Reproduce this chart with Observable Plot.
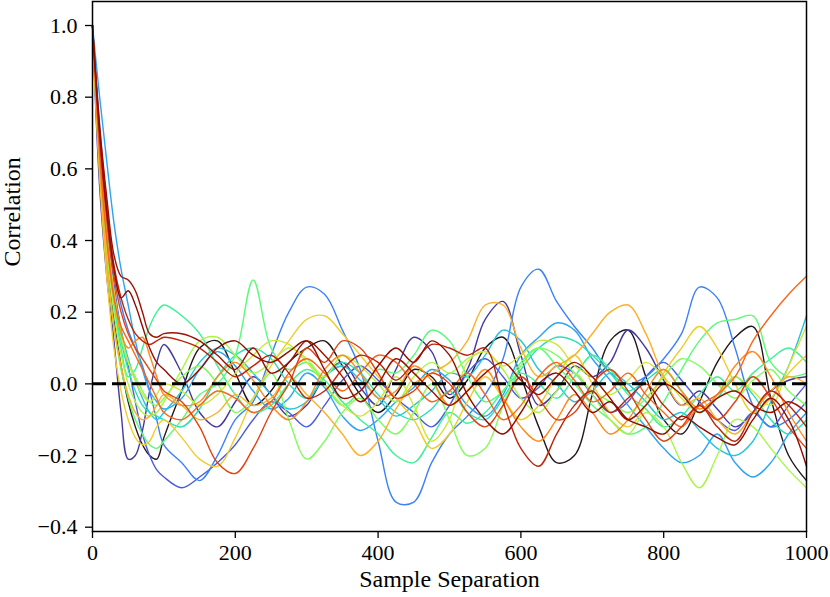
<!DOCTYPE html>
<html>
<head>
<meta charset="utf-8">
<script src="https://cdn.jsdelivr.net/npm/d3@7"></script>
<script src="https://cdn.jsdelivr.net/npm/@observablehq/plot@0.6"></script>
<style>
  html, body { margin: 0; padding: 0; background: white; }
</style>
</head>
<body>
<div id="chart"></div>
<script>
// Sample separations (lags) at which correlations were read
const lags = [0,10,20,30,40,50,60,70,80,90,
  100,125,150,175,200,225,250,275,300,325,350,375,400,425,450,475,500,525,550,575,
  600,625,650,675,700,725,750,775,800,825,850,875,900,925,950,975,1000];

const xTicks = [0,200,400,600,800,1000];
const yTicks = [-0.4,-0.2,0,0.2,0.4,0.6,0.8,1.0];

const s0 = [1.0,0.62,0.36,0.18,0.05,-0.05,-0.12,-0.17,-0.20,-0.21,
  -0.15,-0.02,0.10,0.12,0.03,-0.06,-0.02,0.06,0.10,0.12,0.05,-0.03,-0.08,-0.03,0.04,0.02,-0.04,0.01,0.10,0.13,
  0.02,-0.12,-0.22,-0.20,-0.03,0.12,0.15,0.02,-0.10,-0.14,-0.05,0.06,0.13,0.16,-0.04,-0.20,-0.27];
const s1 = [1.0,0.55,0.30,0.12,-0.08,-0.21,-0.20,-0.13,-0.02,0.06,
  0.11,0.03,-0.08,-0.12,-0.05,0.02,-0.03,-0.09,-0.06,0.02,0.06,-0.01,-0.06,0.04,0.13,0.09,-0.03,0.04,0.18,0.23,
  0.08,-0.06,-0.02,0.05,0.02,0.06,0.15,0.10,0.01,-0.06,-0.02,-0.07,-0.12,-0.08,-0.02,0.01,0.02];
const s2 = [1.0,0.68,0.45,0.28,0.15,0.05,-0.05,-0.14,-0.20,-0.24,
  -0.26,-0.29,-0.26,-0.22,-0.17,-0.10,-0.05,-0.08,-0.12,-0.06,0.01,0.05,0.01,-0.04,-0.08,-0.12,-0.06,0.03,0.07,0.02,
  -0.04,-0.01,0.05,0.03,-0.03,-0.08,-0.05,0.02,0.06,0.01,-0.05,-0.10,-0.13,-0.08,-0.12,-0.06,0.00];
const s3 = [1.0,0.72,0.50,0.33,0.22,0.15,0.10,0.05,-0.02,-0.10,
  -0.17,-0.22,-0.27,-0.20,-0.10,-0.05,0.08,0.20,0.27,0.25,0.15,0.04,-0.16,-0.33,-0.33,-0.22,-0.14,-0.09,-0.03,0.07,
  0.27,0.32,0.23,0.16,0.10,0.03,0.00,0.02,0.07,0.14,0.27,0.24,0.10,-0.06,-0.12,-0.10,-0.05];
const s4 = [1.0,0.80,0.62,0.45,0.32,0.22,0.12,0.04,-0.02,-0.05,
  -0.07,-0.04,0.04,0.09,0.05,-0.02,-0.07,-0.04,0.03,-0.01,-0.09,-0.13,-0.10,-0.05,-0.01,0.04,0.01,-0.06,-0.09,-0.03,
  0.08,0.13,0.17,0.15,0.07,0.01,-0.06,-0.12,-0.18,-0.22,-0.20,-0.14,-0.22,-0.26,-0.22,-0.14,-0.08];
const s5 = [1.0,0.66,0.42,0.26,0.15,0.07,0.01,-0.04,-0.08,-0.10,
  -0.08,-0.02,0.06,0.10,0.08,0.03,-0.03,-0.07,-0.05,0.02,0.05,0.01,-0.04,-0.09,-0.06,-0.02,0.03,0.02,0.08,0.15,
  0.12,0.04,0.00,-0.05,-0.02,0.03,0.00,-0.05,-0.10,-0.08,-0.13,-0.18,-0.20,-0.16,-0.05,0.05,0.19];
const s6 = [1.0,0.63,0.39,0.22,0.12,0.04,-0.02,-0.06,-0.08,-0.09,
  -0.10,-0.12,-0.07,0.02,0.08,0.10,0.07,0.00,-0.04,0.02,0.06,0.03,-0.03,-0.08,-0.10,-0.07,-0.02,-0.08,-0.10,-0.04,
  0.04,0.10,0.13,0.12,0.08,0.03,-0.02,0.01,0.04,-0.02,-0.08,-0.04,0.02,-0.03,-0.10,-0.14,-0.10];
const s7 = [1.0,0.65,0.40,0.22,0.10,0.02,0.04,0.10,0.16,0.20,
  0.22,0.19,0.14,0.05,-0.03,-0.08,-0.06,0.00,0.04,0.01,-0.05,-0.10,-0.14,-0.20,-0.22,-0.15,-0.08,-0.11,-0.08,-0.02,
  0.03,0.00,-0.04,0.02,0.08,0.04,-0.03,-0.07,-0.12,-0.09,-0.03,0.02,-0.02,0.03,0.07,0.10,0.06];
const s8 = [1.0,0.60,0.34,0.16,0.04,-0.04,-0.10,-0.14,-0.17,-0.18,
  -0.16,-0.10,-0.03,0.00,0.08,0.29,0.10,0.04,0.06,0.00,-0.06,-0.02,0.04,0.03,0.08,0.15,0.12,0.02,-0.05,-0.02,
  0.06,0.10,0.05,0.00,-0.06,-0.10,-0.14,-0.12,-0.05,0.04,0.12,0.17,0.18,0.19,0.06,0.02,0.03];
const s9 = [1.0,0.64,0.40,0.24,0.13,0.06,0.02,-0.02,-0.05,-0.06,
  -0.04,0.02,0.05,0.00,-0.08,-0.04,0.03,-0.10,-0.21,-0.16,-0.08,-0.04,-0.10,-0.14,-0.08,0.00,-0.10,-0.20,-0.18,-0.06,
  0.05,0.10,0.08,0.03,-0.02,-0.05,-0.08,-0.04,0.02,0.07,0.05,0.00,-0.04,0.01,0.04,-0.02,-0.06];
const s10 = [1.0,0.62,0.37,0.20,0.08,0.00,-0.05,-0.08,-0.09,-0.08,
  -0.05,0.04,0.12,0.13,0.08,0.03,0.06,0.10,0.07,0.02,0.08,0.05,0.00,-0.05,0.02,0.06,0.03,0.07,0.09,0.04,
  -0.04,-0.08,-0.02,0.03,-0.03,-0.10,-0.14,-0.08,-0.12,-0.22,-0.29,-0.20,-0.10,-0.12,-0.18,-0.24,-0.29];
const s11 = [1.0,0.66,0.42,0.26,0.14,0.06,0.01,-0.03,-0.05,-0.03,
  0.00,-0.02,-0.06,-0.03,0.03,0.08,0.12,0.11,0.06,0.00,-0.06,-0.09,-0.05,0.02,-0.06,-0.16,-0.10,0.06,0.09,0.05,
  0.08,0.12,0.11,0.05,0.02,-0.03,0.01,0.06,0.02,-0.04,-0.08,-0.03,0.02,-0.02,-0.06,0.05,0.16];
const s12 = [1.0,0.58,0.30,0.10,-0.02,-0.10,-0.15,-0.17,-0.16,-0.12,
  -0.10,-0.15,-0.21,-0.23,-0.15,-0.04,0.05,0.12,0.18,0.19,0.14,0.08,0.02,-0.04,-0.10,-0.18,-0.14,-0.05,0.02,-0.04,
  -0.10,-0.06,0.02,0.08,0.00,-0.08,-0.12,-0.06,0.03,0.10,0.16,0.10,0.00,-0.08,-0.04,0.03,0.08];
const s13 = [1.0,0.60,0.34,0.16,0.05,-0.03,-0.08,-0.10,-0.09,-0.06,
  -0.03,-0.06,-0.10,-0.08,-0.03,-0.06,-0.04,0.02,-0.03,-0.08,-0.14,-0.20,-0.16,-0.07,0.00,0.03,0.06,0.12,0.22,0.22,
  0.10,0.02,0.05,0.08,0.14,0.20,0.22,0.14,0.02,-0.06,-0.04,-0.10,-0.14,-0.08,-0.02,0.02,0.00];
const s14 = [1.0,0.66,0.42,0.25,0.14,0.10,0.12,0.13,0.08,0.02,
  -0.03,-0.06,-0.05,0.02,0.06,0.01,-0.06,-0.10,-0.05,0.04,0.08,0.03,-0.04,-0.02,0.05,0.01,-0.06,-0.02,0.04,-0.04,
  -0.12,-0.16,-0.10,-0.03,-0.08,-0.14,-0.10,-0.02,0.04,-0.02,-0.07,-0.03,0.05,0.09,0.02,-0.08,-0.16];
const s15 = [1.0,0.64,0.40,0.24,0.16,0.12,0.08,0.04,0.00,-0.04,
  -0.08,-0.10,-0.06,-0.02,-0.04,-0.08,-0.05,0.03,0.07,0.03,-0.02,0.03,0.08,0.06,0.00,-0.05,-0.02,0.03,-0.03,-0.10,
  -0.06,0.02,0.06,0.01,-0.05,-0.02,0.03,-0.03,-0.08,-0.12,-0.06,-0.03,0.02,0.12,0.19,0.25,0.30];
const s16 = [1.0,0.68,0.46,0.30,0.20,0.14,0.10,0.07,0.04,0.01,
  -0.02,-0.05,-0.12,-0.22,-0.25,-0.18,-0.08,0.00,0.10,0.06,0.12,0.10,0.03,-0.04,-0.02,0.03,0.00,-0.08,-0.12,-0.06,
  0.02,-0.04,-0.10,-0.08,0.00,0.04,-0.02,-0.10,-0.16,-0.12,-0.06,-0.10,-0.05,0.02,-0.04,-0.12,-0.18];
const s17 = [1.0,0.70,0.48,0.33,0.24,0.18,0.14,0.12,0.11,0.12,
  0.13,0.12,0.10,0.06,0.02,0.05,0.08,0.03,-0.04,-0.02,0.04,0.08,0.06,0.01,0.06,0.11,0.10,0.08,0.10,-0.05,
  -0.18,-0.23,-0.14,-0.06,-0.02,-0.08,-0.04,0.00,-0.06,-0.10,-0.06,-0.12,-0.16,-0.08,-0.02,-0.06,-0.12];
const s18 = [1.0,0.72,0.52,0.36,0.30,0.29,0.26,0.20,0.14,0.13,
  0.14,0.14,0.12,0.08,0.04,0.10,0.03,0.06,0.12,0.08,0.02,-0.05,0.00,0.07,0.03,-0.02,-0.06,-0.02,0.03,0.06,
  0.01,-0.03,0.02,0.06,0.02,-0.04,-0.10,-0.06,0.00,-0.03,-0.08,-0.04,-0.02,-0.06,-0.08,-0.05,-0.08];
const s19 = [1.0,0.70,0.48,0.32,0.24,0.26,0.22,0.16,0.10,0.06,
  0.04,0.00,0.04,0.10,0.12,0.08,0.06,0.09,0.12,0.04,-0.04,-0.02,0.05,0.10,0.06,0.12,0.08,-0.03,-0.10,-0.14,
  -0.08,0.00,0.03,-0.02,-0.08,-0.05,-0.10,-0.12,-0.14,-0.09,-0.12,-0.15,-0.17,-0.10,-0.04,-0.10,-0.23];

const series = [s0,s1,s2,s3,s4,s5,s6,s7,s8,s9,s10,s11,s12,s13,s14,s15,s16,s17,s18,s19];
const seriesIds = series.map((_, i) => i);
const colors = seriesIds.map(i => d3.interpolateTurbo(i / (series.length - 1)));

const data = series.flatMap((vals, i) =>
  vals.slice(0, lags.length).map((v, j) => ({lag: lags[j], r: v, s: i})));

const chart = Plot.plot({
  width: 830,
  height: 597,
  marginLeft: 92,
  marginRight: 24,
  marginTop: 1,
  marginBottom: 66,
  style: {fontFamily: "'Liberation Serif', 'Times New Roman', serif", fontSize: "22px", background: "white", color: "black"},
  x: {domain: [0, 1000]},
  y: {domain: [-0.412, 1.067]},
  color: {type: "ordinal", domain: seriesIds, range: colors},
  marks: [
    Plot.line(data, {x: "lag", y: "r", z: "s", stroke: "s", strokeWidth: 1.4, curve: "catmull-rom"}),
    Plot.ruleY([0], {stroke: "black", strokeWidth: 3, strokeDasharray: "14,6"}),
    Plot.frame({stroke: "black", strokeWidth: 1.5}),
    Plot.axisX(xTicks, {tickSize: 7, tickPadding: 6, label: null, tickFormat: d => String(d), strokeWidth: 1.3, fontSize: 22}),
    Plot.axisY(yTicks, {tickSize: 7, tickPadding: 8, label: null, tickFormat: d3.format(".1f"), strokeWidth: 1.3, fontSize: 22}),
    Plot.text(["Sample Separation"], {text: d => d, frameAnchor: "bottom", dy: 55, fontSize: 24, letterSpacing: 0.6}),
    Plot.text(["Correlation"], {text: d => d, frameAnchor: "left", rotate: -90, dx: -80, fontSize: 24, letterSpacing: 0.6})
  ]
});
document.getElementById("chart").appendChild(chart);
</script>
</body>
</html>
